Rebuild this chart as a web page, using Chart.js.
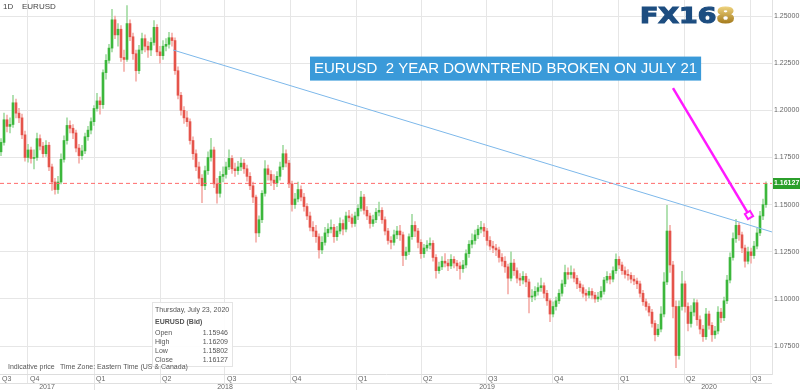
<!DOCTYPE html>
<html>
<head>
<meta charset="utf-8">
<script src="https://cdn.jsdelivr.net/npm/chart.js@4.4.0/dist/chart.umd.min.js"></script>
<style>
  html, body { margin: 0; padding: 0; background: #fff; }
</style>
</head>
<body>
<canvas id="fx" width="800" height="390"></canvas>
<script>
// EURUSD, one candle per 3 trading days, Aug 2017 - Jul 23 2020
const opens = [
  1.1780, 1.1830, 1.1950, 1.1915, 1.1925, 1.2040, 1.1985, 1.1960, 1.1870, 1.1750,
  1.1790, 1.1745, 1.1750, 1.1850, 1.1810, 1.1770, 1.1815, 1.1700, 1.1620, 1.1580,
  1.1620, 1.1740, 1.1840, 1.1920, 1.1905, 1.1880, 1.1800, 1.1760, 1.1785, 1.1860,
  1.1895, 1.1940, 1.2010, 1.2050, 1.2030, 1.2200, 1.2265, 1.2330, 1.2480, 1.2400,
  1.2430, 1.2280, 1.2270, 1.2460, 1.2390, 1.2300, 1.2210, 1.2320, 1.2380, 1.2340,
  1.2320, 1.2360, 1.2440, 1.2310, 1.2290, 1.2340, 1.2350, 1.2385, 1.2370, 1.2210,
  1.2080, 1.2000, 1.1960, 1.1940, 1.1840, 1.1770, 1.1700, 1.1640, 1.1600, 1.1680,
  1.1750, 1.1790, 1.1610, 1.1560, 1.1650, 1.1660, 1.1700, 1.1745, 1.1690, 1.1680,
  1.1700, 1.1720, 1.1690, 1.1650, 1.1600, 1.1540, 1.1350, 1.1420, 1.1560, 1.1690,
  1.1660, 1.1630, 1.1615, 1.1650, 1.1700, 1.1770, 1.1720, 1.1610, 1.1500, 1.1530,
  1.1580, 1.1540, 1.1490, 1.1440, 1.1380, 1.1360, 1.1330, 1.1260, 1.1300, 1.1350,
  1.1370, 1.1380, 1.1330, 1.1360, 1.1400, 1.1370, 1.1440, 1.1430, 1.1400, 1.1440,
  1.1480, 1.1540, 1.1470, 1.1440, 1.1400, 1.1420, 1.1460, 1.1470, 1.1420, 1.1360,
  1.1310, 1.1300, 1.1340, 1.1360, 1.1340, 1.1230, 1.1250, 1.1330, 1.1390, 1.1360,
  1.1300, 1.1240, 1.1270, 1.1285, 1.1295, 1.1220, 1.1150, 1.1170, 1.1200, 1.1190,
  1.1175, 1.1210, 1.1190, 1.1175, 1.1160, 1.1180, 1.1240, 1.1290, 1.1310, 1.1340,
  1.1370, 1.1380, 1.1360, 1.1310, 1.1280, 1.1270, 1.1260, 1.1220, 1.1200, 1.1170,
  1.1110, 1.1190, 1.1150, 1.1110, 1.1100, 1.1120, 1.1090, 1.1010, 1.1015, 1.1040,
  1.1060, 1.1070, 1.1030, 1.0990, 1.0920, 1.0960, 1.0990, 1.1030, 1.1080, 1.1140,
  1.1130, 1.1140, 1.1110, 1.1080, 1.1060, 1.1030, 1.1020, 1.1040, 1.1020, 1.1000,
  1.1010, 1.1040, 1.1100, 1.1120, 1.1105, 1.1150, 1.1210, 1.1180, 1.1150, 1.1130,
  1.1125, 1.1105, 1.1095, 1.1080, 1.1030, 1.0985, 1.0960, 1.0930, 1.0870, 1.0810,
  1.0840, 1.0920, 1.1090, 1.1360, 1.1180, 1.0960, 1.0700, 1.0960, 1.1080, 1.0960,
  1.0870, 1.0930, 1.0980, 1.0890, 1.0840, 1.0800, 1.0920, 1.0860, 1.0810, 1.0830,
  1.0930, 1.0900, 1.0990, 1.1100, 1.1220, 1.1320, 1.1390, 1.1340, 1.1270, 1.1200,
  1.1250, 1.1230, 1.1280, 1.1350, 1.1440, 1.1500
]
const highs = [
  1.1850, 1.1985, 1.1975, 1.1960, 1.2080, 1.2060, 1.2010, 1.1980, 1.1890, 1.1820,
  1.1805, 1.1790, 1.1880, 1.1870, 1.1830, 1.1840, 1.1830, 1.1715, 1.1640, 1.1650,
  1.1770, 1.1865, 1.1960, 1.1945, 1.1925, 1.1895, 1.1820, 1.1815, 1.1880, 1.1915,
  1.1960, 1.2025, 1.2090, 1.2070, 1.2215, 1.2295, 1.2350, 1.2536, 1.2500, 1.2460,
  1.2450, 1.2320, 1.2555, 1.2480, 1.2410, 1.2320, 1.2345, 1.2410, 1.2400, 1.2365,
  1.2385, 1.2476, 1.2455, 1.2340, 1.2370, 1.2380, 1.2414, 1.2410, 1.2385, 1.2230,
  1.2095, 1.2020, 1.1995, 1.1955, 1.1860, 1.1790, 1.1725, 1.1660, 1.1705, 1.1780,
  1.1852, 1.1805, 1.1640, 1.1675, 1.1700, 1.1725, 1.1790, 1.1760, 1.1720, 1.1730,
  1.1750, 1.1740, 1.1710, 1.1670, 1.1620, 1.1550, 1.1440, 1.1575, 1.1733, 1.1710,
  1.1680, 1.1660, 1.1675, 1.1725, 1.1815, 1.1790, 1.1735, 1.1625, 1.1560, 1.1620,
  1.1600, 1.1560, 1.1505, 1.1460, 1.1410, 1.1390, 1.1345, 1.1330, 1.1380, 1.1400,
  1.1420, 1.1395, 1.1385, 1.1430, 1.1420, 1.1460, 1.1470, 1.1450, 1.1460, 1.1500,
  1.1570, 1.1555, 1.1490, 1.1455, 1.1445, 1.1480, 1.1514, 1.1485, 1.1435, 1.1375,
  1.1330, 1.1365, 1.1385, 1.1390, 1.1355, 1.1275, 1.1345, 1.1448, 1.1410, 1.1375,
  1.1315, 1.1290, 1.1310, 1.1324, 1.1310, 1.1235, 1.1195, 1.1225, 1.1240, 1.1210,
  1.1235, 1.1225, 1.1205, 1.1195, 1.1205, 1.1260, 1.1310, 1.1345, 1.1365, 1.1390,
  1.1412, 1.1400, 1.1375, 1.1330, 1.1305, 1.1290, 1.1275, 1.1240, 1.1225, 1.1185,
  1.1250, 1.1210, 1.1165, 1.1135, 1.1145, 1.1135, 1.1105, 1.1050, 1.1065, 1.1085,
  1.1110, 1.1085, 1.1045, 1.1000, 1.0985, 1.1010, 1.1050, 1.1100, 1.1179, 1.1165,
  1.1175, 1.1160, 1.1125, 1.1095, 1.1075, 1.1050, 1.1060, 1.1055, 1.1035, 1.1035,
  1.1065, 1.1115, 1.1145, 1.1135, 1.1170, 1.1239, 1.1225, 1.1195, 1.1170, 1.1155,
  1.1140, 1.1125, 1.1110, 1.1095, 1.1045, 1.1000, 1.0975, 1.0945, 1.0885, 1.0865,
  1.0960, 1.1140, 1.1496, 1.1390, 1.1200, 1.0990, 1.0990, 1.1147, 1.1095, 1.0980,
  1.0965, 1.1000, 1.0995, 1.0910, 1.0860, 1.0950, 1.0935, 1.0875, 1.0855, 1.0960,
  1.0950, 1.1010, 1.1125, 1.1245, 1.1350, 1.1422, 1.1405, 1.1355, 1.1285, 1.1275,
  1.1270, 1.1305, 1.1375, 1.1465, 1.1530, 1.16209
]
const lows = [
  1.1760, 1.1815, 1.1885, 1.1880, 1.1910, 1.1960, 1.1935, 1.1850, 1.1730, 1.1725,
  1.1720, 1.1690, 1.1735, 1.1790, 1.1750, 1.1755, 1.1680, 1.1575, 1.1555, 1.1560,
  1.1610, 1.1725, 1.1820, 1.1880, 1.1850, 1.1780, 1.1720, 1.1740, 1.1770, 1.1840,
  1.1875, 1.1920, 1.1995, 1.1980, 1.2010, 1.2165, 1.2250, 1.2310, 1.2380, 1.2340,
  1.2260, 1.2206, 1.2260, 1.2370, 1.2270, 1.2155, 1.2195, 1.2300, 1.2310, 1.2280,
  1.2290, 1.2345, 1.2290, 1.2250, 1.2270, 1.2315, 1.2330, 1.2340, 1.2190, 1.2060,
  1.1975, 1.1930, 1.1915, 1.1820, 1.1740, 1.1680, 1.1610, 1.1510, 1.1580, 1.1660,
  1.1730, 1.1590, 1.1508, 1.1540, 1.1620, 1.1640, 1.1685, 1.1665, 1.1650, 1.1660,
  1.1680, 1.1665, 1.1625, 1.1580, 1.1510, 1.1301, 1.1330, 1.1405, 1.1545, 1.1630,
  1.1600, 1.1580, 1.1595, 1.1630, 1.1685, 1.1700, 1.1590, 1.1465, 1.1480, 1.1515,
  1.1520, 1.1465, 1.1420, 1.1360, 1.1330, 1.1300, 1.1216, 1.1240, 1.1285, 1.1330,
  1.1350, 1.1300, 1.1310, 1.1345, 1.1340, 1.1355, 1.1410, 1.1380, 1.1385, 1.1420,
  1.1465, 1.1450, 1.1420, 1.1375, 1.1385, 1.1405, 1.1440, 1.1400, 1.1340, 1.1290,
  1.1265, 1.1285, 1.1320, 1.1310, 1.1176, 1.1210, 1.1235, 1.1315, 1.1330, 1.1270,
  1.1215, 1.1220, 1.1255, 1.1265, 1.1200, 1.1110, 1.1135, 1.1155, 1.1170, 1.1150,
  1.1160, 1.1165, 1.1150, 1.1105, 1.1140, 1.1165, 1.1220, 1.1270, 1.1290, 1.1320,
  1.1350, 1.1330, 1.1285, 1.1260, 1.1245, 1.1230, 1.1195, 1.1175, 1.1140, 1.1027,
  1.1095, 1.1125, 1.1085, 1.1070, 1.1080, 1.1065, 1.0926, 1.0985, 1.0995, 1.1020,
  1.1040, 1.1005, 1.0965, 1.0879, 1.0905, 1.0940, 1.0975, 1.1015, 1.1065, 1.1105,
  1.1110, 1.1090, 1.1055, 1.1040, 1.1010, 1.0990, 1.1005, 1.1000, 1.0981, 1.0985,
  1.0995, 1.1025, 1.1085, 1.1080, 1.1090, 1.1135, 1.1160, 1.1130, 1.1110, 1.1100,
  1.1085, 1.1075, 1.1055, 1.1010, 1.0965, 1.0940, 1.0910, 1.0850, 1.0778, 1.0800,
  1.0825, 1.0905, 1.1075, 1.1140, 1.0900, 1.0636, 1.0680, 1.0940, 1.0930, 1.0830,
  1.0850, 1.0910, 1.0860, 1.0815, 1.0775, 1.0785, 1.0840, 1.0775, 1.0790, 1.0815,
  1.0875, 1.0885, 1.0975, 1.1085, 1.1205, 1.1300, 1.1310, 1.1245, 1.1168, 1.1185,
  1.1190, 1.1215, 1.1265, 1.1335, 1.1420, 1.1485
]
const closes = [
  1.1830, 1.1950, 1.1915, 1.1925, 1.2040, 1.1985, 1.1960, 1.1870, 1.1750, 1.1790,
  1.1745, 1.1750, 1.1850, 1.1810, 1.1770, 1.1815, 1.1700, 1.1620, 1.1580, 1.1620,
  1.1740, 1.1840, 1.1920, 1.1905, 1.1880, 1.1800, 1.1760, 1.1785, 1.1860, 1.1895,
  1.1940, 1.2010, 1.2050, 1.2030, 1.2200, 1.2265, 1.2330, 1.2480, 1.2400, 1.2430,
  1.2280, 1.2270, 1.2460, 1.2390, 1.2300, 1.2210, 1.2320, 1.2380, 1.2340, 1.2320,
  1.2360, 1.2440, 1.2310, 1.2290, 1.2340, 1.2350, 1.2385, 1.2370, 1.2210, 1.2080,
  1.2000, 1.1960, 1.1940, 1.1840, 1.1770, 1.1700, 1.1640, 1.1600, 1.1680, 1.1750,
  1.1790, 1.1610, 1.1560, 1.1650, 1.1660, 1.1700, 1.1745, 1.1690, 1.1680, 1.1700,
  1.1720, 1.1690, 1.1650, 1.1600, 1.1540, 1.1350, 1.1420, 1.1560, 1.1690, 1.1660,
  1.1630, 1.1615, 1.1650, 1.1700, 1.1770, 1.1720, 1.1610, 1.1500, 1.1530, 1.1580,
  1.1540, 1.1490, 1.1440, 1.1380, 1.1360, 1.1330, 1.1260, 1.1300, 1.1350, 1.1370,
  1.1380, 1.1330, 1.1360, 1.1400, 1.1370, 1.1440, 1.1430, 1.1400, 1.1440, 1.1480,
  1.1540, 1.1470, 1.1440, 1.1400, 1.1420, 1.1460, 1.1470, 1.1420, 1.1360, 1.1310,
  1.1300, 1.1340, 1.1360, 1.1340, 1.1230, 1.1250, 1.1330, 1.1390, 1.1360, 1.1300,
  1.1240, 1.1270, 1.1285, 1.1295, 1.1220, 1.1150, 1.1170, 1.1200, 1.1190, 1.1175,
  1.1210, 1.1190, 1.1175, 1.1160, 1.1180, 1.1240, 1.1290, 1.1310, 1.1340, 1.1370,
  1.1380, 1.1360, 1.1310, 1.1280, 1.1270, 1.1260, 1.1220, 1.1200, 1.1170, 1.1110,
  1.1190, 1.1150, 1.1110, 1.1100, 1.1120, 1.1090, 1.1010, 1.1015, 1.1040, 1.1060,
  1.1070, 1.1030, 1.0990, 1.0920, 1.0960, 1.0990, 1.1030, 1.1080, 1.1140, 1.1130,
  1.1140, 1.1110, 1.1080, 1.1060, 1.1030, 1.1020, 1.1040, 1.1020, 1.1000, 1.1010,
  1.1040, 1.1100, 1.1120, 1.1105, 1.1150, 1.1210, 1.1180, 1.1150, 1.1130, 1.1125,
  1.1105, 1.1095, 1.1080, 1.1030, 1.0985, 1.0960, 1.0930, 1.0870, 1.0810, 1.0840,
  1.0920, 1.1090, 1.1360, 1.1180, 1.0960, 1.0700, 1.0960, 1.1080, 1.0960, 1.0870,
  1.0930, 1.0980, 1.0890, 1.0840, 1.0800, 1.0920, 1.0860, 1.0810, 1.0830, 1.0930,
  1.0900, 1.0990, 1.1100, 1.1220, 1.1320, 1.1390, 1.1340, 1.1270, 1.1200, 1.1250,
  1.1230, 1.1280, 1.1350, 1.1440, 1.1500, 1.16127
]

// axis layout, in trading days from the left edge
const quarterStarts = [0, 28, 94, 160, 225, 290, 356, 421, 486, 552, 618, 684, 750]
const quarterLabels = ["Q3", "Q4", "Q1", "Q2", "Q3", "Q4", "Q1", "Q2", "Q3", "Q4", "Q1", "Q2", "Q3"]
const yearStarts = [0, 94, 356, 618]
const yearLabels = ["2017", "2018", "2019", "2020"]
const priceTicks = [1.075, 1.1, 1.125, 1.15, 1.175, 1.2, 1.225, 1.25]

const lastBar = { date: "Thursday, July 23, 2020", open: 1.15946, high: 1.16209, low: 1.15802, close: 1.16127 }
const trendLine = [{ x: 173, y: 1.232 }, { x: 772, y: 1.1355 }]
const arrowFrom = [673, 1.2118]
const arrowTo = [749, 1.1445]
const calloutText = "EURUSD  2 YEAR DOWNTREND BROKEN ON JULY 21"
const calloutAt = [310, 1.2285]

const UP = "#3cb73c", DOWN = "#e5544b"
const UP_WICK = "#a3dba3", DOWN_WICK = "#f4aea9"
const dayOf = (i) => i * 3 + 1
const isUp = (i) => closes[i] >= opens[i]

Chart.defaults.font.family = "'Liberation Sans', Arial, sans-serif"

const overlay = {
  id: "overlay",
  afterDraw(chart) {
    const { ctx, chartArea: a } = chart
    const xs = chart.scales.x, ys = chart.scales.y
    ctx.save()

    // last price tag
    const py = Math.round(ys.getPixelForValue(lastBar.close))
    ctx.fillStyle = "#2b9f2b"
    ctx.fillRect(a.right + 1, py - 5, chart.width - a.right - 1, 11)
    ctx.fillStyle = "#fff"
    ctx.font = "bold 7px 'Liberation Sans', Arial"
    ctx.textBaseline = "middle"
    ctx.fillText(lastBar.close.toFixed(5), a.right + 2, py + 0.5)

    // callout box
    ctx.font = "15px 'Liberation Sans', Arial"
    const bx = xs.getPixelForValue(calloutAt[0])
    const by = ys.getPixelForValue(calloutAt[1])
    const tw = ctx.measureText(calloutText).width
    ctx.fillStyle = "#3a9ad9"
    ctx.fillRect(bx, by, tw + 8, 24)
    ctx.fillStyle = "#fff"
    ctx.fillText(calloutText, bx + 4, by + 12.5)

    // magenta arrow
    const x1 = xs.getPixelForValue(arrowFrom[0]), y1 = ys.getPixelForValue(arrowFrom[1])
    const x2 = xs.getPixelForValue(arrowTo[0]), y2 = ys.getPixelForValue(arrowTo[1])
    const ang = Math.atan2(y2 - y1, x2 - x1)
    ctx.strokeStyle = "#ff19ff"
    ctx.lineWidth = 2.5
    ctx.beginPath()
    ctx.moveTo(x1, y1)
    ctx.lineTo(x2 - 3 * Math.cos(ang), y2 - 3 * Math.sin(ang))
    ctx.stroke()
    ctx.save()
    ctx.translate(x2, y2)
    ctx.rotate(ang)
    ctx.lineWidth = 2
    ctx.strokeRect(-3, -3, 6, 6)
    ctx.restore()

    // header
    ctx.fillStyle = "#444"
    ctx.font = "8px 'Liberation Sans', Arial"
    ctx.fillText("1D", 3, 7)
    ctx.fillText("EURUSD", 22, 7)

    // logo
    ctx.save()
    ctx.font = "bold 22px 'DejaVu Sans'"
    const lw = ctx.measureText("FX168").width
    ctx.translate(640, 23)
    ctx.scale(95 / lw, 1)
    ctx.textBaseline = "alphabetic"
    ctx.fillStyle = "#1d4d80"
    ctx.strokeStyle = "#1d4d80"
    ctx.lineWidth = 1.2
    ctx.fillText("FX16", 0, 0)
    ctx.strokeText("FX16", 0, 0)
    const g = ctx.createLinearGradient(0, -16, 0, 0)
    g.addColorStop(0, "#ecd07a")
    g.addColorStop(1, "#a67c1e")
    ctx.fillStyle = g
    ctx.strokeStyle = g
    const w16 = ctx.measureText("FX16").width
    ctx.fillText("8", w16, 0)
    ctx.strokeText("8", w16, 0)
    ctx.restore()

    // info panel
    ctx.fillStyle = "rgba(255,255,255,0.92)"
    ctx.fillRect(152, 302, 80, 65)
    ctx.strokeStyle = "#e4e4e4"
    ctx.lineWidth = 1
    ctx.strokeRect(152.5, 302.5, 80, 64)
    ctx.fillStyle = "#555"
    ctx.font = "7px 'Liberation Sans', Arial"
    ctx.fillText(lastBar.date, 155, 310)
    ctx.font = "bold 7px 'Liberation Sans', Arial"
    ctx.fillText("EURUSD (Bid)", 155, 322)
    ctx.font = "7px 'Liberation Sans', Arial"
    const rows = [["Open", lastBar.open], ["High", lastBar.high], ["Low", lastBar.low], ["Close", lastBar.close]]
    rows.forEach(([name, v], i) => {
      ctx.textAlign = "left"
      ctx.fillText(name, 155, 333 + i * 9)
      ctx.textAlign = "right"
      ctx.fillText(v.toFixed(5), 228, 333 + i * 9)
    })
    ctx.textAlign = "left"
    ctx.fillText("Indicative price", 8, 367)
    ctx.fillText("Time Zone: Eastern Time (US & Canada)", 60, 367)

    // year row under the quarters
    const rowY = xs.top + 9.5
    ctx.strokeStyle = "#e0e0e0"
    ctx.beginPath()
    ctx.moveTo(0, rowY)
    ctx.lineTo(a.right, rowY)
    ctx.stroke()
    ctx.fillStyle = "#666"
    ctx.textAlign = "center"
    yearStarts.forEach((d, i) => {
      const x0 = xs.getPixelForValue(d)
      const xEnd = i + 1 < yearStarts.length ? xs.getPixelForValue(yearStarts[i + 1]) : chart.width
      if (i > 0) {
        ctx.beginPath()
        ctx.moveTo(Math.round(x0) + 0.5, rowY)
        ctx.lineTo(Math.round(x0) + 0.5, chart.height)
        ctx.stroke()
      }
      ctx.fillText(yearLabels[i], (x0 + xEnd) / 2, rowY + 4)
    })
    ctx.restore()
  },
}

new Chart(document.getElementById("fx"), {
  type: "bar",
  data: {
    datasets: [
      {
        type: "line",
        data: trendLine,
        borderColor: "#7db8ea",
        borderWidth: 1,
        pointRadius: 0,
        order: 1,
      },
      {
        // dashed last-price line
        type: "line",
        data: [{ x: 0, y: lastBar.close }, { x: 772, y: lastBar.close }],
        borderColor: "#ff6b6b",
        borderWidth: 1,
        borderDash: [4, 3],
        pointRadius: 0,
        order: 0,
      },
      {
        data: closes.map((c, i) => ({ x: dayOf(i), y: [opens[i], c] })),
        backgroundColor: closes.map((c, i) => (isUp(i) ? UP : DOWN)),
        barThickness: 2,
        minBarLength: 1,
        grouped: false,
        order: 2,
      },
      {
        data: highs.map((h, i) => ({ x: dayOf(i), y: [lows[i], h] })),
        backgroundColor: highs.map((h, i) => (isUp(i) ? UP_WICK : DOWN_WICK)),
        barThickness: 1,
        grouped: false,
        order: 3,
      },
    ],
  },
  options: {
    responsive: false,
    animation: false,
    devicePixelRatio: 1,
    layout: { padding: 0, autoPadding: false },
    plugins: { legend: { display: false }, tooltip: { enabled: false } },
    scales: {
      x: {
        type: "linear",
        min: 0,
        max: 772,
        offset: false,
        afterBuildTicks: (s) => { s.ticks = quarterStarts.map((v) => ({ value: v })) },
        afterFit: (s) => {
          s.height = 16
          s.paddingLeft = 0
          s.paddingRight = 0
        },
        grid: {
          offset: false,
          color: (c) => (c.tick && c.tick.value === 0 ? "rgba(0,0,0,0)" : "#e6e6e6"),
          tickLength: 9,
        },
        border: { display: true, color: "#dddddd" },
        ticks: {
          autoSkip: false,
          maxRotation: 0,
          align: "start",
          padding: -8,
          color: "#666",
          font: { size: 7 },
          callback: (v, i) => " " + quarterLabels[i],
        },
      },
      y: {
        position: "right",
        min: 1.0602,
        max: 1.2585,
        afterBuildTicks: (s) => { s.ticks = priceTicks.map((v) => ({ value: v })) },
        afterFit: (s) => {
          s.width = 28
          s.paddingTop = 0
          s.paddingBottom = 0
        },
        grid: { color: "#e6e6e6", drawTicks: false },
        border: { display: true, color: "#e2e2e2" },
        ticks: { padding: 2, color: "#666", font: { size: 7 }, callback: (v) => v.toFixed(5) },
      },
    },
  },
  plugins: [overlay],
})
</script>
</body>
</html>
